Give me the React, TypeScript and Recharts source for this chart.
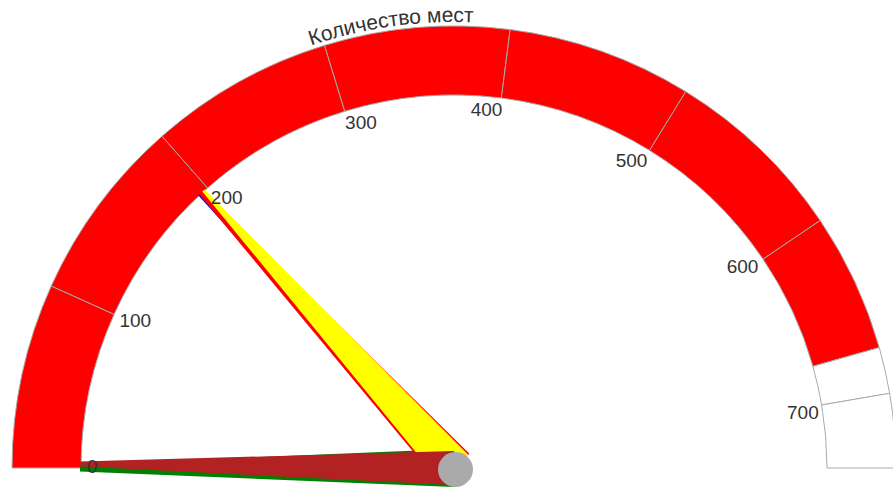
import React from 'react';
import { PieChart, Pie, Cell, Customized } from 'recharts';

// gauge scale
const GAUGE_MIN = 0;
const GAUGE_MAX = 740;
const TICKS = [0, 100, 200, 300, 400, 500, 600, 700];

// colour band: upper limits of each segment
const BAND_BREAKS = [100, 200, 300, 400, 500, 600, 675, 700, 740];
const BAND_FILLS = ['#ff0000', '#ff0000', '#ff0000', '#ff0000', '#ff0000', '#ff0000', '#ff0000', '#ffffff', '#ffffff'];

// needles, drawn in this order (last on top)
const NEEDLE_VALUES = [0, 193.5, 195, 197, 2.5];
const NEEDLE_COLORS = ['#008000', '#0000ff', '#ff0000', '#ffff00', '#b22222'];
const NEEDLE_BASE = [19, 6, 21, 19.5, 17];
const NEEDLE_TIP = [3.5, 1.5, 2.5, 1.5, 2.5];

const TITLE = 'Количество мест';

const CX = 454;
const CY = 468;
const R_OUT = 442;
const R_IN = 373;
const RAD = Math.PI / 180;
const FONT = '"Liberation Sans", Arial, sans-serif';

const bandData = BAND_BREAKS.map((end, i) => ({
  name: `band${i}`,
  value: end - (i === 0 ? GAUGE_MIN : BAND_BREAKS[i - 1]),
}));

const tickData = TICKS.map((t, i) => ({
  name: String(t),
  value: (i < TICKS.length - 1 ? TICKS[i + 1] : GAUGE_MAX) - t,
}));

const polar = (cx: number, cy: number, r: number, a: number) => ({
  x: cx + r * Math.cos(a * RAD),
  y: cy - r * Math.sin(a * RAD),
});

const renderTick = (p: any) => {
  const a = p.startAngle;
  const pt = polar(p.cx, p.cy, 365, a);
  const anchor = a > 90 ? 'start' : 'end';
  const dx = a > 90 ? -2 : a < 20 ? 5 : 2;
  const dy = a > 172 ? -9 : a < 20 ? -1 : -4;
  return (
    <text
      key={`tick-${p.index}`}
      x={pt.x + dx}
      y={pt.y + dy}
      textAnchor={anchor}
      dominantBaseline="hanging"
      fill="#333"
      fontSize={19}
      fontFamily={FONT}
    >
      {TICKS[p.index]}
    </text>
  );
};

const makeNeedle = (n: number) => (p: any) => {
  if (p.index !== 0) return null;
  const a = p.endAngle * RAD;
  const len = R_IN + 1;
  const dir = { x: Math.cos(a), y: -Math.sin(a) };
  const perp = { x: Math.sin(a), y: Math.cos(a) };
  const w = NEEDLE_BASE[n];
  const t = NEEDLE_TIP[n];
  const tx = p.cx + dir.x * len;
  const ty = p.cy + dir.y * len;
  const pts = [
    [p.cx + perp.x * w, p.cy + perp.y * w],
    [tx + perp.x * t, ty + perp.y * t],
    [tx - perp.x * t, ty - perp.y * t],
    [p.cx - perp.x * w, p.cy - perp.y * w],
  ]
    .map((q) => q.join(','))
    .join(' ');
  return <polygon key={`needle-${n}`} points={pts} fill={NEEDLE_COLORS[n]} stroke="none" />;
};

const renderHub = (p: any) => (
  <circle key="hub" cx={p.cx} cy={p.cy} r={17.5} fill="#aaaaaa" stroke="none" />
);

const Title = () => {
  const r = 446;
  const d = `M ${CX - r} ${CY} A ${r} ${r} 0 0 1 ${CX + r} ${CY}`;
  return (
    <g>
      <defs>
        <path id="titleArc" d={d} fill="none" />
      </defs>
      <text fill="#333" fontSize={21} fontFamily={FONT}>
        <textPath href="#titleArc" startOffset="45.5%" textAnchor="middle">
          {TITLE}
        </textPath>
      </text>
    </g>
  );
};

export default function App() {
  return (
    <div style={{ position: 'absolute', left: 0, top: 0, background: '#fff' }}>
      <PieChart width={893} height={488} margin={{ top: 0, right: 0, bottom: 0, left: 0 }}>
        <Pie
          data={bandData}
          dataKey="value"
          cx={CX}
          cy={CY}
          startAngle={180}
          endAngle={0}
          innerRadius={R_IN}
          outerRadius={R_OUT}
          stroke="#aaaaaa"
          strokeWidth={1}
          isAnimationActive={false}
        >
          {bandData.map((d, i) => (
            <Cell key={d.name} fill={BAND_FILLS[i]} />
          ))}
        </Pie>
        {NEEDLE_VALUES.map((v, n) => (
          <Pie
            key={`needle${n}`}
            data={[{ name: 'value', value: v }, { name: 'rest', value: GAUGE_MAX - v }]}
            dataKey="value"
            cx={CX}
            cy={CY}
            startAngle={180}
            endAngle={0}
            innerRadius={0}
            outerRadius={1}
            fill="transparent"
            stroke="none"
            label={makeNeedle(n)}
            labelLine={false}
            isAnimationActive={false}
          />
        ))}
        <Pie
          data={[{ name: 'hub', value: 1 }]}
          dataKey="value"
          cx={CX + 1.5}
          cy={CY + 1.5}
          startAngle={0}
          endAngle={360}
          outerRadius={1}
          fill="transparent"
          stroke="none"
          label={renderHub}
          labelLine={false}
          isAnimationActive={false}
        />
        <Pie
          data={tickData}
          dataKey="value"
          cx={CX}
          cy={CY}
          startAngle={180}
          endAngle={0}
          innerRadius={R_IN - 1}
          outerRadius={R_IN}
          fill="transparent"
          stroke="none"
          label={renderTick}
          labelLine={false}
          isAnimationActive={false}
        />
        <Customized component={Title} />
      </PieChart>
    </div>
  );
}
